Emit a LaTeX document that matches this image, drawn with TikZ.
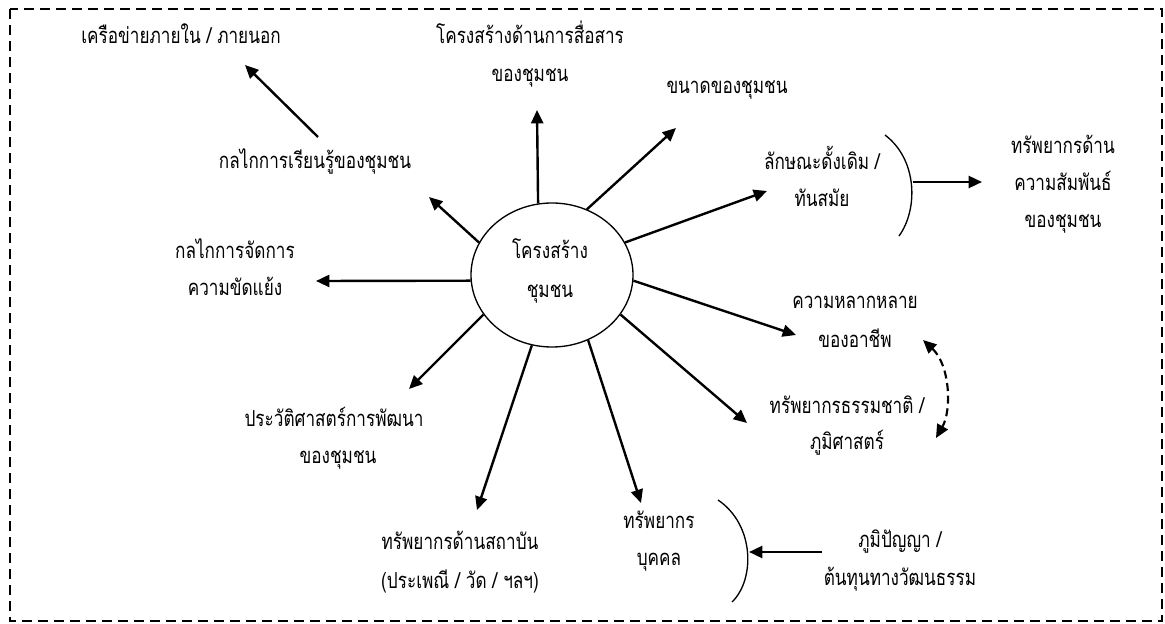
\documentclass[tikz,border=0pt]{standalone}
\usepackage{fontspec}
\newfontfamily\thai[Script=Thai,FakeStretch=0.78]{Loma}
\usetikzlibrary{arrows.meta,shapes.geometric}
\begin{document}
\begin{tikzpicture}[x=0.75pt,y=-0.75pt,
  lbl/.style={anchor=base, inner sep=0pt, font=\thai\fontsize{16.5}{20}\selectfont},
  link/.style={line width=1.8pt, -{Triangle[length=10pt,width=9pt]}},
  twoway/.style={line width=1.6pt, dash pattern=on 6pt off 3.5pt,
    {Triangle[length=10pt,width=9pt]}-{Triangle[length=10pt,width=9pt]}},
  hub/.style={draw, ellipse, line width=1pt, minimum width=121.5pt,
    minimum height=108pt, inner sep=0pt},
  brace/.style={line width=1pt},
  frame/.style={line width=1.5pt, dash pattern=on 7.5pt off 4.5pt}]
\useasboundingbox (0,0) rectangle (1165,624);
\draw[frame] (10,9) rectangle (1162,621);

% central structure
\node[hub] (hub) at (552,275) {};
\node[lbl] (hubA) at (550,259) {โครงสร้าง};
\node[lbl] (hubB) at (550,298) {ชุมชน};

% surrounding labels
\node[lbl] (net)    at (181,44)  {เครือข่ายภายใน / ภายนอก};
\node[lbl] (comA)   at (530,44)  {โครงสร้างด้านการสื่อสาร};
\node[lbl] (comB)   at (530,82)  {ของชุมชน};
\node[lbl] (size)   at (727,94)  {ขนาดของชุมชน};
\node[lbl] (learn)  at (315,169) {กลไกการเรียนรู้ของชุมชน};
\node[lbl] (tradA)  at (822,170) {ลักษณะดั้งเดิม /};
\node[lbl] (tradB)  at (822,207) {ทันสมัย};
\node[lbl] (relA)   at (1063,154) {ทรัพยากรด้าน};
\node[lbl] (relB)   at (1063,191) {ความสัมพันธ์};
\node[lbl] (relC)   at (1063,228) {ของชุมชน};
\node[lbl] (confA)  at (235,259) {กลไกการจัดการ};
\node[lbl] (confB)  at (235,296) {ความขัดแย้ง};
\node[lbl] (occA)   at (855,309) {ความหลากหลาย};
\node[lbl] (occB)   at (855,348) {ของอาชีพ};
\node[lbl] (natA)   at (847,413) {ทรัพยากรธรรมชาติ /};
\node[lbl] (natB)   at (847,449) {ภูมิศาสตร์};
\node[lbl] (histA)  at (334,426) {ประวัติศาสตร์การพัฒนา};
\node[lbl] (histB)  at (338,463) {ของชุมชน};
\node[lbl] (instA)  at (460,549) {ทรัพยากรด้านสถาบัน};
\node[lbl] (instB)  at (460,588) {(ประเพณี / วัด / ฯลฯ)};
\node[lbl] (humA)   at (659,528) {ทรัพยากร};
\node[lbl] (humB)   at (659,565) {บุคคล};
\node[lbl] (wisA)   at (900,547) {ภูมิปัญญา /};
\node[lbl] (wisB)   at (900,585) {ต้นทุนทางวัฒนธรรม};

% arrow end points
\coordinate (tLearn) at (429,197);
\coordinate (tCom)   at (537,110);
\coordinate (tSize)  at (676,128);
\coordinate (tTrad)  at (767,191);
\coordinate (tConf)  at (316,281);
\coordinate (tOcc)   at (796,335);
\coordinate (tNat)   at (747,423);
\coordinate (tHist)  at (409,389);
\coordinate (tInst)  at (477,510);
\coordinate (tHum)   at (641,503);
\coordinate (sNet)   at (318,137);
\coordinate (tNet)   at (245,65);

% spokes from the centre
\draw[link] (hub.156.6) -- (tLearn);
\draw[link] (hub.101.9) -- (tCom);
\draw[link] (hub.62.4)  -- (tSize);
\draw[link] (hub.24)    -- (tTrad);
\draw[link] (hub.184.2) -- (tConf);
\draw[link] (hub.-4.9)  -- (tOcc);
\draw[link] (hub.-30.5) -- (tNat);
\draw[link] (hub.210.1) -- (tHist);
\draw[link] (hub.254.7) -- (tInst);
\draw[link] (hub.299.6) -- (tHum);
\draw[link] (sNet) -- (tNet);

% brackets and their arrows
\draw[brace] (885,135) .. controls (918,160) and (918,210) .. (899,236);
\coordinate (braceA) at (913,182);
\coordinate (tRel) at (982,182);
\draw[link] (braceA) -- (tRel);

\draw[brace] (718,500) .. controls (755,525) and (755,580) .. (732,602);
\coordinate (braceB) at (749,552);
\coordinate (sWis) at (822,552);
\draw[link] (sWis) -- (braceB);

% two-way link between occupation and natural resources
\coordinate (dTop) at (923,340);
\coordinate (dBot) at (936,438);
\draw[twoway] (dTop) .. controls (950,365) and (952,410) .. (dBot);
\end{tikzpicture}
\end{document}
